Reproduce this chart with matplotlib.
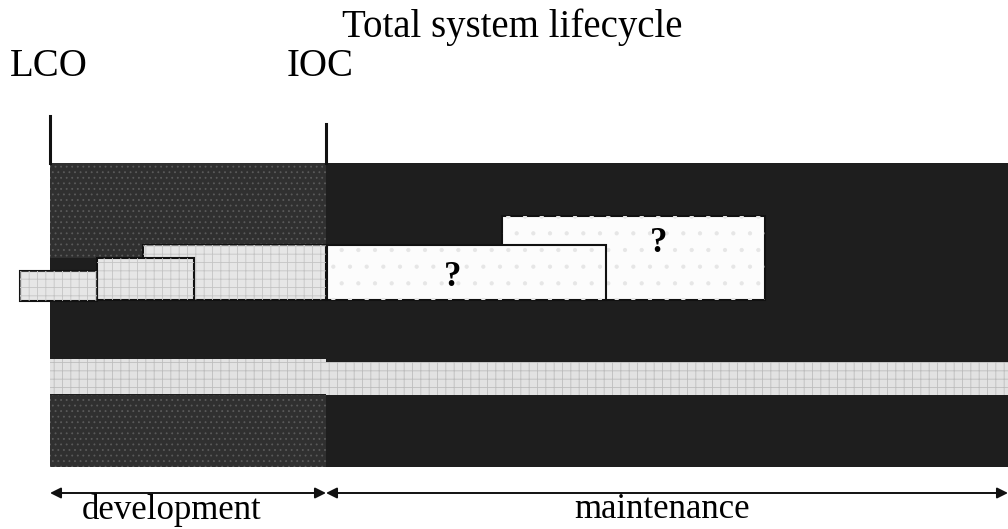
import matplotlib
matplotlib.use("Agg")
from matplotlib import pyplot as plt

plt.rcParams['font.family'] = ['Liberation Serif', 'DejaVu Serif']
plt.rcParams['hatch.linewidth'] = 0.6

# Timeline milestones (x position on the lifecycle axis)
milestones = ['LCO', 'IOC']
milestone_x = [50, 326]
milestone_top = [116, 124]
end_x = 1008

# Overall effort band (top / bottom)
band_top, band_bottom = 163, 467

# Dark textured development blocks: start, end, top, bottom
dark_start = [50, 50]
dark_end = [326, 326]
dark_top = [163, 395]
dark_bottom = [258, 467]

# Light development blocks (drawn back to front)
light_start = [143, 97, 20]
light_end = [326, 194, 97]
light_top = [245, 258, 271]
light_bottom = [300, 300, 301]

# Light band running through the whole lifecycle
strip_start = [50, 326]
strip_end = [326, end_x]
strip_top = [359, 362]
strip_bottom = [394, 395]

# Unknown maintenance blocks ("?")
unk_start = [502, 327]
unk_end = [765, 606]
unk_top = [216, 245]
unk_bottom = [300, 300]
unk_label_x = [659, 453]
unk_label_y = [244, 277]

phases = ['development', 'maintenance']
phase_start = [50, 326]
phase_end = [326, end_x]

fig = plt.figure(figsize=(10.08, 5.29), dpi=100)
ax = fig.add_axes([0, 0, 1, 1])
ax.set_xlim(0, 1008)
ax.set_ylim(529, 0)
ax.axis('off')


def blocks(x0, x1, y0, y1, face, hatch=None, hcolor=None, edge='none', lw=0):
    w = [b - a for a, b in zip(x0, x1)]
    h = [b - a for a, b in zip(y0, y1)]
    ax.barh(y0, w, height=h, left=x0, align='edge', color=face,
            edgecolor=edge, linewidth=lw)
    if hatch:
        ax.barh(y0, w, height=h, left=x0, align='edge', color='none',
                edgecolor=hcolor, linewidth=0, hatch=hatch)


# black background of the whole effort band
blocks([50], [end_x], [band_top], [band_bottom], '#1e1e1e')
blocks(dark_start, dark_end, dark_top, dark_bottom, '#303030',
       hatch='...', hcolor='#5a5a5a')
for i in range(len(light_start)):
    blocks([light_start[i]], [light_end[i]], [light_top[i]], [light_bottom[i]],
           '#e6e6e6', hatch='++', hcolor='#c4c4c4', edge='#111111', lw=1.5)
blocks(strip_start, strip_end, strip_top, strip_bottom, '#e2e2e2',
       hatch='++', hcolor='#bdbdbd')
for i in range(len(unk_start)):
    blocks([unk_start[i]], [unk_end[i]], [unk_top[i]], [unk_bottom[i]],
           '#fcfcfc', hatch='.', hcolor='#e6e6e6', edge='#111111', lw=1.5)
    ax.text(unk_label_x[i], unk_label_y[i], '?',
            fontsize=25, fontweight='bold', ha='center', va='center')

# milestone lines and labels
for name, x, top in zip(milestones, milestone_x, milestone_top):
    ax.plot([x, x], [top, band_top], color='#111111', lw=2.2)
ax.text(49, 66, milestones[0], fontsize=28, ha='center', va='center')
ax.text(320, 66, milestones[1], fontsize=28, ha='center', va='center')
ax.text(512, 27, 'Total system lifecycle', fontsize=28, ha='center', va='center')

# phase arrows
for name, x0, x1 in zip(phases, phase_start, phase_end):
    ax.annotate('', xy=(x0, 493), xytext=(x1, 493),
                arrowprops=dict(arrowstyle='<|-|>', color='#111111', lw=1.4,
                                mutation_scale=16, shrinkA=0, shrinkB=0))
ax.text(172, 510, phases[0], fontsize=25, ha='center', va='center')
ax.text(662, 510, phases[1], fontsize=25, ha='center', va='center')

fig.savefig('out.png', dpi=100)
